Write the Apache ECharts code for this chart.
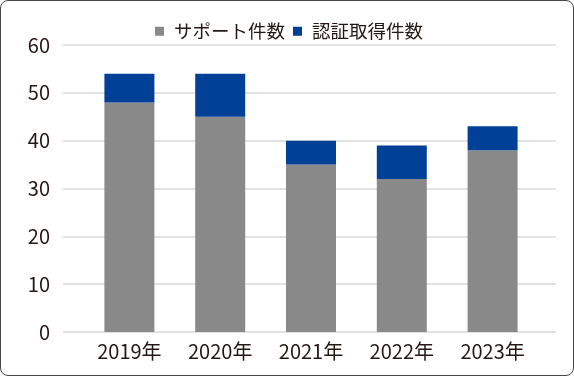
<!DOCTYPE html>
<html>
<head>
<meta charset="utf-8">
<script src="https://cdn.jsdelivr.net/npm/echarts@6/dist/echarts.min.js"></script>
<style>
  html, body { margin: 0; padding: 0; background: #fff; }
  #chart {
    width: 574px; height: 376px; box-sizing: border-box;
    border: 1.5px solid #4a4646; border-radius: 8px; overflow: hidden;
  }
</style>
</head>
<body>
<div id="chart"></div>
<script>
// データ
const years = ["2019年", "2020年", "2021年", "2022年", "2023年"];
const supportCount = [48, 45, 35, 32, 38];
const certCount = [6, 9, 5, 7, 5];
const seriesNames = ["サポート件数", "認証取得件数"];
const yTicks = { min: 0, max: 60, interval: 10 };

const textColor = "#231815";
const font = "'Noto Sans CJK JP', 'Noto Sans', sans-serif";

let myChart = echarts.init(document.getElementById("chart"));
myChart.setOption({
  animation: false,
  textStyle: { fontFamily: font },
  legend: {
    top: 16,
    left: 149,
    itemWidth: 9,
    itemHeight: 9,
    itemGap: 8,
    icon: "rect",
    textStyle: { fontSize: 18.5, color: textColor, padding: [0, 0, 0, 5] },
    data: seriesNames,
  },
  grid: [
    // 目盛線用
    { left: 62, right: 17, top: 44, bottom: 43 },
    // 棒グラフ用
    { left: 83, right: 35, top: 44, bottom: 43 },
  ],
  xAxis: [
    { type: "category", gridIndex: 0, data: years, show: false },
    {
      type: "category",
      gridIndex: 1,
      data: years,
      axisLine: { show: false },
      axisTick: { show: false },
      axisLabel: { fontSize: 20, color: textColor, margin: 9 },
    },
  ],
  yAxis: [
    {
      type: "value",
      gridIndex: 0,
      min: yTicks.min,
      max: yTicks.max,
      interval: yTicks.interval,
      axisLabel: { fontSize: 20, color: textColor, margin: 13 },
      splitLine: { lineStyle: { color: "#d9d9d9", width: 1.5 } },
    },
    {
      type: "value",
      gridIndex: 1,
      min: yTicks.min,
      max: yTicks.max,
      interval: yTicks.interval,
      show: false,
      splitLine: { show: false },
    },
  ],
  series: [
    {
      name: seriesNames[0],
      type: "bar",
      stack: "total",
      xAxisIndex: 1,
      yAxisIndex: 1,
      barWidth: 50,
      itemStyle: { color: "#898989" },
      data: supportCount,
    },
    {
      name: seriesNames[1],
      type: "bar",
      stack: "total",
      xAxisIndex: 1,
      yAxisIndex: 1,
      barWidth: 50,
      itemStyle: { color: "#004097" },
      data: certCount,
    },
  ],
});
</script>
</body>
</html>
